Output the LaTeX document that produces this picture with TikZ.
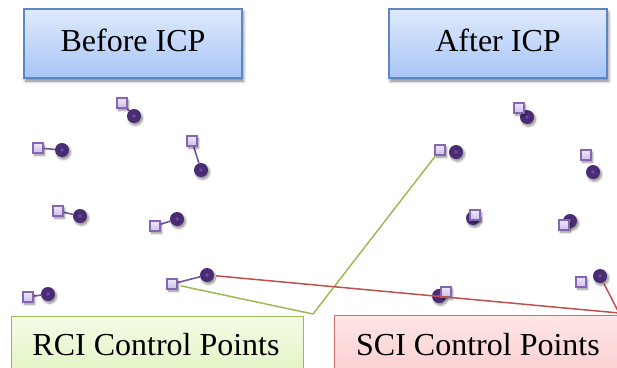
\documentclass[tikz,border=0pt]{standalone}
\usepackage{fontspec}
\setmainfont{Liberation Serif}
\usetikzlibrary{shadows.blur,backgrounds}

\definecolor{sqedge}{HTML}{8466B2}
\definecolor{sqtop}{HTML}{EEE8F9}
\definecolor{sqfill}{HTML}{CDBDEA}
\definecolor{dotfill}{HTML}{4A2C75}
\definecolor{dotmid}{HTML}{6B4F98}
\definecolor{linkcol}{HTML}{6F58A0}
\definecolor{blueedge}{HTML}{5A88C4}
\definecolor{bluetop}{HTML}{E0EAFC}
\definecolor{bluebot}{HTML}{A7C5F6}
\definecolor{greenedge}{HTML}{9BBB59}
\definecolor{greentop}{HTML}{F4FBE6}
\definecolor{greenbot}{HTML}{DDF3BC}
\definecolor{rededge}{HTML}{D0706E}
\definecolor{redtop}{HTML}{FFE6E6}
\definecolor{redbot}{HTML}{F9CACA}
\definecolor{redline}{HTML}{C0504D}

\tikzset{
  softshadow/.style={blur shadow={shadow xshift=1.5pt, shadow yshift=-2.2pt,
      shadow blur radius=2.2pt, shadow blur steps=6, shadow opacity=45}},
  ptsq/.style={rectangle, draw=sqedge, line width=1.6pt, top color=sqtop,
      bottom color=sqfill, minimum size=10pt, inner sep=0pt, softshadow},
  ptdot/.style={circle, fill=dotfill, minimum size=14pt, inner sep=0pt, softshadow,
      path picture={\fill[dotmid] (path picture bounding box.center) circle (1.8pt);}},
  pairlink/.style={draw=linkcol, line width=1.6pt},
  titlebox/.style={rectangle, draw=blueedge, line width=1.2pt, top color=bluetop,
      bottom color=bluebot, minimum width=218pt, minimum height=69pt,
      blur shadow={shadow xshift=1.5pt, shadow yshift=-3pt, shadow blur radius=3pt,
      shadow opacity=50}},
  rcibox/.style={rectangle, draw=greenedge, line width=1pt, top color=greentop,
      bottom color=greenbot, anchor=north west},
  scibox/.style={rectangle, draw=rededge, line width=1pt, top color=redtop,
      bottom color=redbot, anchor=north west},
  bigtext/.style={anchor=base, inner sep=0pt, font=\fontsize{32}{38}\selectfont},
  greencall/.style={draw=greenedge, line width=1.5pt, line join=round},
  redcall/.style={draw=redline, line width=1.5pt, line join=round},
}

\begin{document}
\begin{tikzpicture}[x=1pt,y=-1pt]
  \useasboundingbox (0,0) rectangle (617,367);
  \clip (0,0) rectangle (617,367);

  % heading boxes
  \node[titlebox] (before) at (133,43.5) {};
  \node[bigtext] (beforetxt) at (133,51) {Before ICP};
  \node[titlebox] (after) at (498,43.5) {};
  \node[bigtext] (aftertxt) at (498,51) {After ICP};

  % legend boxes at the bottom
  \node[rcibox, minimum width=292pt, minimum height=70pt] (rci) at (11,316) {};
  \node[bigtext] (rcitxt) at (156,355) {RCI Control Points};
  \node[scibox, minimum width=300pt, minimum height=70pt] (sci) at (334,315) {};
  \node[bigtext] (scitxt) at (478,355) {SCI Control Points};

  % control point pairs: square = RCI point, dot = SCI point
  \foreach \n/\sx/\sy/\dx/\dy in {
      la/122/103/134/116, lb/38/148/62/150, lc/192/141/201/170,
      ld/58/211/80/216, le/155/226/177/219, lf/28/297/48/294, lg/172/284/207/275,
      ra/519/108/527/117, rb/440/150/456/152, rc/586/155/593/172,
      rd/475/215/473/218, re/564/225/570/221, rf/446/292/439/296, rg/581/282/600/276}
  {
    \node[ptdot] (\n d) at (\dx,\dy) {};
    \node[ptsq] (\n s) at (\sx,\sy) {};
  }

  % residual links before alignment
  \begin{scope}[on background layer]
    \foreach \n in {la,lb,lc,ld,le,lf,lg}
      \draw[pairlink] (\n s) -- (\n d);
  \end{scope}

  % callout leaders
  \coordinate (gtip) at (313,314);
  \coordinate (rtip) at (619,313);
  \draw[greencall, shorten <=3pt] (lgs) -- (gtip) -- (rbs);
  \draw[redcall, shorten <=2pt, shorten >=1pt] (lgd) -- (rtip) -- (rgd);
\end{tikzpicture}
\end{document}
